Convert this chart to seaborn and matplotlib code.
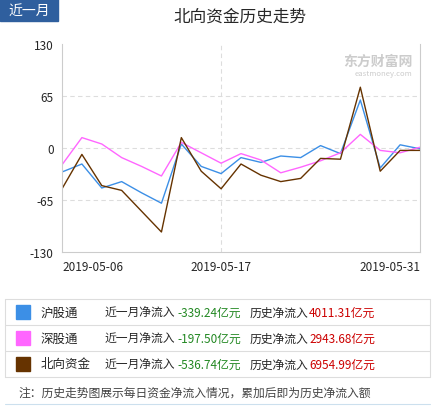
import numpy as np
import pandas as pd
import matplotlib
matplotlib.use("Agg")
import matplotlib.pyplot as plt
import seaborn as sns

sns.set_style("white")
plt.rcParams['font.family'] = ['Noto Sans CJK SC', 'DejaVu Sans']

# ============== DATA ==============
days = list(range(19))
tick_pos = [0, 8, 18]
tick_labels = ["2019-05-06", "2019-05-17", "2019-05-31"]
hgt = [-30, -20, -50, -42, -56, -69, 5, -23, -32, -12, -18, -10, -12, 3, -7, 60, -25, 4, -1]
sgt = [-21, 13, 5, -12, -23, -35, 7, -6, -19, -7, -15, -31, -24, -16, -6, 17, -3, -6, 1]
north = [-51, -8, -47, -53, -79, -105, 13, -29, -51, -20, -34, -42, -38, -13, -14, 76, -29, -3, -3]
names = ["沪股通", "深股通", "北向资金"]
colors = ["#3c8fe6", "#ff66ff", "#663300"]
month_flow = ["-339.24", "-197.50", "-536.74"]
hist_flow = ["4011.31", "2943.68", "6954.99"]

df = pd.DataFrame({"day": days * 3,
                   "value": hgt + sgt + north,
                   "name": [n for n in names for _ in days]})

# ============== FIGURE ==============
fig = plt.figure(figsize=(4.36, 4.10), dpi=100)
ax = fig.add_axes([62 / 436, 1 - 253 / 410, 358 / 436, 208 / 410])
sns.lineplot(data=df, x="day", y="value", hue="name", palette=colors,
             linewidth=1.0, legend=False, ax=ax)

ax.set_xlim(0, 18)
ax.set_ylim(-130, 130)
ax.set_yticks([130, 65, 0, -65, -130])
ax.set_yticklabels(["130", "65", "0", "-65", "-130"], fontsize=8.5)
ax.set_xticks(tick_pos)
ax.set_xticklabels(tick_labels, fontsize=8.5)
for lab, ha in zip(ax.get_xticklabels(), ["left", "center", "right"]):
    lab.set_ha(ha)
ax.tick_params(length=0, pad=6)
ax.set_xlabel("")
ax.set_ylabel("")
for y in [65, 0, -65]:
    ax.axhline(y, color="#dddddd", lw=0.8, ls=(0, (4, 3)), zorder=0)
ax.axvline(8, color="#dddddd", lw=0.8, ls=(0, (4, 3)), zorder=0)
ax.spines["top"].set_visible(False)
for s in ["left", "bottom", "right"]:
    ax.spines[s].set_color("#cccccc")
ax.text(0.98, 0.9, "东方财富网", transform=ax.transAxes, ha="right",
        fontsize=10, color="#cccccc", fontweight="bold")
ax.text(0.98, 0.85, "eastmoney.com", transform=ax.transAxes, ha="right",
        fontsize=5.5, color="#cccccc")

# tab + title
fig.patches.append(plt.Rectangle((0, 1 - 22 / 410), 58 / 436, 22 / 410,
                                 transform=fig.transFigure, color="#2f5f9e"))
fig.text(29 / 436, 1 - 11 / 410, "近一月", color="white", fontsize=10,
         ha="center", va="center")
fig.text(240 / 436, 1 - 17 / 410, "北向资金历史走势", fontsize=12,
         ha="center", va="center")

# legend table
top = 300
row_h = 26
for i in range(4):
    y = 1 - (top + i * row_h) / 410
    fig.add_artist(plt.Line2D([5 / 436, 430 / 436], [y, y], color="#dddddd", lw=0.8))
fig.add_artist(plt.Line2D([5 / 436, 5 / 436], [1 - top / 410, 1 - (top + 3 * row_h) / 410], color="#dddddd", lw=0.8))
fig.add_artist(plt.Line2D([430 / 436, 430 / 436], [1 - top / 410, 1 - (top + 3 * row_h) / 410], color="#dddddd", lw=0.8))
for i in range(3):
    yc = 1 - (top + row_h * i + row_h / 2) / 410
    fig.patches.append(plt.Rectangle((16 / 436, yc - 7 / 410), 14 / 436, 14 / 410,
                                     transform=fig.transFigure, color=colors[i]))
    fig.text(41 / 436, yc, names[i], fontsize=9, va="center")
    fig.text(105 / 436, yc, "近一月净流入", fontsize=8.5, va="center")
    fig.text(177 / 436, yc, month_flow[i] + "亿元", fontsize=8.5, va="center", color="#228822")
    fig.text(250 / 436, yc, "历史净流入", fontsize=8.5, va="center")
    fig.text(309 / 436, yc, hist_flow[i] + "亿元", fontsize=8.5, va="center", color="#cc0000")

fig.text(18 / 436, 1 - 393 / 410, "注：历史走势图展示每日资金净流入情况，累加后即为历史净流入额",
         fontsize=8.5, va="center", color="#444444")
fig.add_artist(plt.Line2D([5 / 436, 430 / 436], [1 - 405 / 410] * 2, color="#cce0ee", lw=0.8))

fig.savefig("out.png", dpi=100)
